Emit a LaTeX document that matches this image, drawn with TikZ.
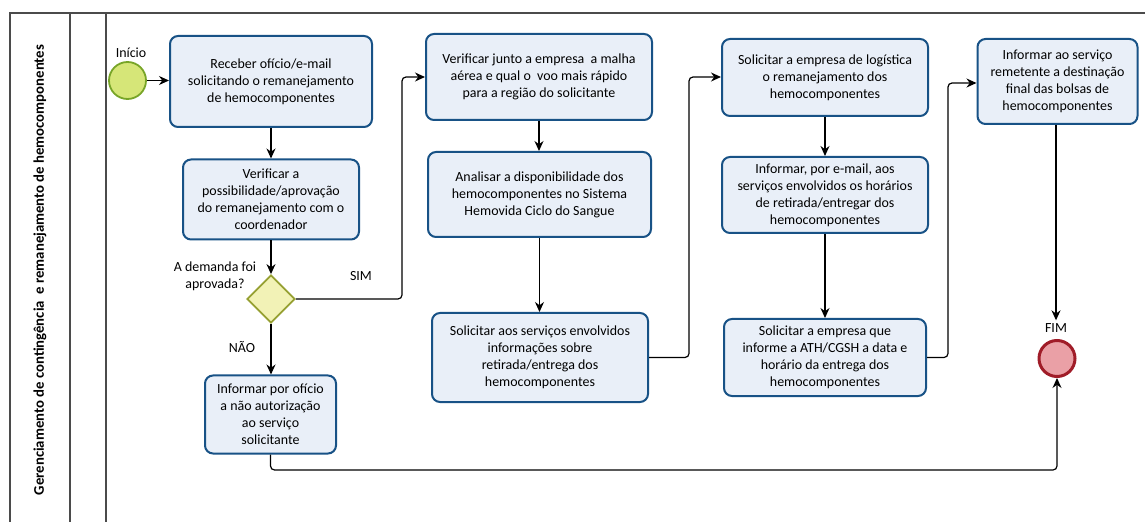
\documentclass[tikz,border=0pt]{standalone}
\usepackage{fontspec}
\setmainfont{Carlito}
\usetikzlibrary{arrows.meta,shapes.geometric}

\definecolor{taskline}{RGB}{24,82,134}
\definecolor{taskfill}{RGB}{233,239,248}
\definecolor{startfill}{RGB}{214,230,120}
\definecolor{startline}{RGB}{120,165,40}
\definecolor{gwfill}{RGB}{242,242,182}
\definecolor{gwline}{RGB}{150,160,50}
\definecolor{endfill}{RGB}{234,160,166}
\definecolor{endline}{RGB}{160,28,40}
\definecolor{lanegray}{RGB}{75,75,75}

\tikzset{
  x=1bp, y=-1bp,
  taskbox/.style 2 args={draw=taskline, fill=taskfill, line width=2bp,
    rounded corners=8bp, align=center, inner sep=0pt,
    minimum width=#1 bp, minimum height=#2 bp,
    font=\fontsize{14}{17}\selectfont},
  startev/.style={circle, draw=startline, fill=startfill, line width=1.8bp,
    minimum size=37bp, inner sep=0pt},
  endev/.style={circle, draw=endline, fill=endfill, line width=3bp,
    minimum size=36bp, inner sep=0pt},
  gateway/.style={diamond, draw=gwline, fill=gwfill, line width=1.8bp,
    minimum width=48bp, minimum height=48bp, inner sep=0pt},
  lbl/.style={align=center, inner sep=0pt, font=\fontsize{14}{17}\selectfont},
  flow/.style={draw=black, line width=1.2bp, rounded corners=4bp,
    -{Stealth[length=10bp,width=9bp]}},
  laneline/.style={draw=lanegray, line width=1.6bp},
}

\begin{document}
\begin{tikzpicture}
\useasboundingbox (0,0) rectangle (1145,522);

% pool and lane borders
\draw[laneline] (1145,13) -- (10,13) -- (10,522);
\draw[laneline] (70,13) -- (70,522);
\draw[laneline] (106,13) -- (106,522);
\node[rotate=90, inner sep=0pt, font=\bfseries\fontsize{14.8}{16}\selectfont] (lane) at (40,270)
  {Gerenciamento de contingência\ \ e remanejamento de hemocomponentes};

% events and gateway
\node[startev] (start) at (127.5,80.5) {};
\node[lbl] (startlbl) at (131,53) {Início};
\node[gateway] (gw) at (271,299) {};
\node[lbl] (gwlbl) at (215,276.5) {A demanda foi\\aprovada?};
\node[endev] (fim) at (1057,358.5) {};
\node[lbl] (fimlbl) at (1056,328) {FIM};

% tasks
\node[taskbox={202}{91}] (b1) at (271,81.5)
  {Receber ofício/e-mail\\solicitando o remanejamento\\de hemocomponentes};
\node[taskbox={176}{80}] (b2) at (271,199.5)
  {Verificar a\\possibilidade/aprovação\\do remanejamento com o\\coordenador};
\node[taskbox={131}{78}] (b3) at (270.5,414.5)
  {Informar por ofício\\a não autorização\\ao serviço\\solicitante};
\node[taskbox={226}{86}] (b4) at (539,77)
  {Verificar junto a empresa\ \ a malha\\aérea e qual o\ \ voo mais rápido\\para a região do solicitante};
\node[taskbox={223}{85}] (b5) at (539.5,194.5)
  {Analisar a disponibilidade dos\\hemocomponentes no Sistema\\Hemovida Ciclo do Sangue};
\node[taskbox={216}{89}] (b6) at (540,357.5)
  {Solicitar aos serviços envolvidos\\informações sobre\\retirada/entrega dos\\hemocomponentes};
\node[taskbox={206}{77}] (b7) at (825,77.5)
  {Solicitar a empresa de logística\\o remanejamento dos\\hemocomponentes};
\node[taskbox={206}{76}] (b8) at (825,195)
  {Informar, por e-mail, aos\\serviços envolvidos os horários\\de retirada/entregar dos\\hemocomponentes};
\node[taskbox={202}{77}] (b9) at (825,357.5)
  {Solicitar a empresa que\\informe a ATH/CGSH a data e\\horário da entrega dos\\hemocomponentes};
\node[taskbox={160}{85}] (b10) at (1057.5,81.5)
  {Informar ao serviço\\remetente a destinação\\final das bolsas de\\hemocomponentes};

% branch labels
\node[lbl] (sim) at (361,276) {SIM};
\node[lbl] (nao) at (242,347) {NÃO};

% bend points of the connectors
\coordinate (j1) at (402,77);
\coordinate (j2) at (689,77);
\coordinate (j3) at (948,83);
\coordinate (j4) at (1057,470);

% sequence flows
\draw[flow] (start.east) -- (start.east -| b1.west);
\draw[flow] (b1.south) -- (b1.south |- b2.north);
\draw[flow] (b2.south) -- (gw.north);
\draw[flow] (gw.east) -- (gw.east -| j1) -- (j1) -- (j1 -| b4.west);
\draw[flow] (gw.south) -- (gw.south |- b3.north);
\draw[flow] (b3.south) -- (b3.south |- j4) -- (j4) -- (fim.south);
\draw[flow] (b4.south) -- (b4.south |- b5.north);
\draw[flow] (b5.south) -- (b5.south |- b6.north);
\draw[flow] (b6.east) -- (b6.east -| j2) -- (j2) -- (j2 -| b7.west);
\draw[flow] (b7.south) -- (b7.south |- b8.north);
\draw[flow] (b8.south) -- (b8.south |- b9.north);
\draw[flow] (b9.east) -- (b9.east -| j3) -- (j3) -- (j3 -| b10.west);
\draw[flow] (b10.south -| fimlbl.north) -- ([yshift=3bp]fimlbl.north);
\end{tikzpicture}
\end{document}
